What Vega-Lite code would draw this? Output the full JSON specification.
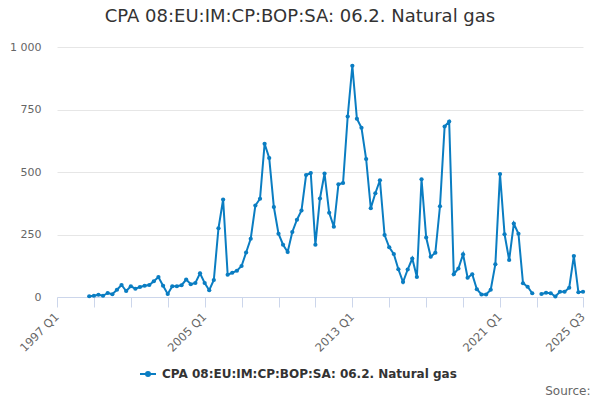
{
  "$schema": "https://vega.github.io/schema/vega-lite/v6.json",
  "description": "CPA 08:EU:IM:CP:BOP:SA: 06.2. Natural gas, quarterly",
  "autosize": "none",
  "width": 526,
  "height": 250,
  "padding": {"left": 57, "top": 47, "right": 17, "bottom": 103},
  "background": "white",
  "config": {
    "font": "DejaVu Sans",
    "view": {"stroke": "transparent"}
  },
  "title": {
    "text": "CPA 08:EU:IM:CP:BOP:SA: 06.2. Natural gas",
    "font": "DejaVu Sans",
    "fontSize": 18,
    "fontWeight": "normal",
    "color": "#333333",
    "anchor": "middle",
    "dx": -20,
    "offset": 15
  },
  "data": {
    "values": [
      {"date": "1998-10-01", "value": 3},
      {"date": "1999-01-01", "value": 5},
      {"date": "1999-04-01", "value": 9},
      {"date": "1999-07-01", "value": 5},
      {"date": "1999-10-01", "value": 16},
      {"date": "2000-01-01", "value": 11},
      {"date": "2000-04-01", "value": 29},
      {"date": "2000-07-01", "value": 48},
      {"date": "2000-10-01", "value": 24},
      {"date": "2001-01-01", "value": 43},
      {"date": "2001-04-01", "value": 33},
      {"date": "2001-07-01", "value": 40},
      {"date": "2001-10-01", "value": 45},
      {"date": "2002-01-01", "value": 48},
      {"date": "2002-04-01", "value": 63},
      {"date": "2002-07-01", "value": 80},
      {"date": "2002-10-01", "value": 45},
      {"date": "2003-01-01", "value": 12},
      {"date": "2003-04-01", "value": 43},
      {"date": "2003-07-01", "value": 43},
      {"date": "2003-10-01", "value": 47},
      {"date": "2004-01-01", "value": 70},
      {"date": "2004-04-01", "value": 51},
      {"date": "2004-07-01", "value": 56},
      {"date": "2004-10-01", "value": 95},
      {"date": "2005-01-01", "value": 56},
      {"date": "2005-04-01", "value": 27},
      {"date": "2005-07-01", "value": 68},
      {"date": "2005-10-01", "value": 275},
      {"date": "2006-01-01", "value": 390},
      {"date": "2006-04-01", "value": 89},
      {"date": "2006-07-01", "value": 97},
      {"date": "2006-10-01", "value": 105},
      {"date": "2007-01-01", "value": 124},
      {"date": "2007-04-01", "value": 178},
      {"date": "2007-07-01", "value": 233},
      {"date": "2007-10-01", "value": 366},
      {"date": "2008-01-01", "value": 393},
      {"date": "2008-04-01", "value": 613},
      {"date": "2008-07-01", "value": 556},
      {"date": "2008-10-01", "value": 360},
      {"date": "2009-01-01", "value": 253},
      {"date": "2009-04-01", "value": 209},
      {"date": "2009-07-01", "value": 180},
      {"date": "2009-10-01", "value": 260},
      {"date": "2010-01-01", "value": 309},
      {"date": "2010-04-01", "value": 346},
      {"date": "2010-07-01", "value": 488},
      {"date": "2010-10-01", "value": 496},
      {"date": "2011-01-01", "value": 209},
      {"date": "2011-04-01", "value": 394},
      {"date": "2011-07-01", "value": 494},
      {"date": "2011-10-01", "value": 337},
      {"date": "2012-01-01", "value": 281},
      {"date": "2012-04-01", "value": 451},
      {"date": "2012-07-01", "value": 456},
      {"date": "2012-10-01", "value": 722},
      {"date": "2013-01-01", "value": 925},
      {"date": "2013-04-01", "value": 713},
      {"date": "2013-07-01", "value": 677},
      {"date": "2013-10-01", "value": 552},
      {"date": "2014-01-01", "value": 355},
      {"date": "2014-04-01", "value": 415},
      {"date": "2014-07-01", "value": 467},
      {"date": "2014-10-01", "value": 248},
      {"date": "2015-01-01", "value": 199},
      {"date": "2015-04-01", "value": 172},
      {"date": "2015-07-01", "value": 111},
      {"date": "2015-10-01", "value": 60},
      {"date": "2016-01-01", "value": 110},
      {"date": "2016-04-01", "value": 154},
      {"date": "2016-07-01", "value": 80},
      {"date": "2016-10-01", "value": 471},
      {"date": "2017-01-01", "value": 238},
      {"date": "2017-04-01", "value": 161},
      {"date": "2017-07-01", "value": 177},
      {"date": "2017-10-01", "value": 363},
      {"date": "2018-01-01", "value": 682},
      {"date": "2018-04-01", "value": 702},
      {"date": "2018-07-01", "value": 91},
      {"date": "2018-10-01", "value": 114},
      {"date": "2019-01-01", "value": 171},
      {"date": "2019-04-01", "value": 77},
      {"date": "2019-07-01", "value": 91},
      {"date": "2019-10-01", "value": 31},
      {"date": "2020-01-01", "value": 10},
      {"date": "2020-04-01", "value": 10},
      {"date": "2020-07-01", "value": 29},
      {"date": "2020-10-01", "value": 131},
      {"date": "2021-01-01", "value": 492},
      {"date": "2021-04-01", "value": 251},
      {"date": "2021-07-01", "value": 148},
      {"date": "2021-10-01", "value": 294},
      {"date": "2022-01-01", "value": 253},
      {"date": "2022-04-01", "value": 55},
      {"date": "2022-07-01", "value": 41},
      {"date": "2022-10-01", "value": 15},
      {"date": "2023-01-01", "value": null},
      {"date": "2023-04-01", "value": 12},
      {"date": "2023-07-01", "value": 17},
      {"date": "2023-10-01", "value": 15},
      {"date": "2024-01-01", "value": 2},
      {"date": "2024-04-01", "value": 21},
      {"date": "2024-07-01", "value": 21},
      {"date": "2024-10-01", "value": 37},
      {"date": "2025-01-01", "value": 164},
      {"date": "2025-04-01", "value": 19},
      {"date": "2025-07-01", "value": 21}
    ]
  },
  "mark": {
    "type": "line",
    "strokeWidth": 2,
    "point": {"filled": true, "size": 18}
  },
  "encoding": {
    "x": {
      "field": "date",
      "type": "temporal",
      "scale": {
        "type": "utc",
        "nice": false,
        "domain": [
          {"year": 1997, "quarter": 1, "utc": true},
          {"year": 2025, "quarter": 3, "utc": true}
        ]
      },
      "title": "Source:",
      "axis": {
        "values": [
          {"year": 1997, "quarter": 1, "utc": true},
          {"year": 1999, "quarter": 1, "utc": true},
          {"year": 2001, "quarter": 1, "utc": true},
          {"year": 2003, "quarter": 1, "utc": true},
          {"year": 2005, "quarter": 1, "utc": true},
          {"year": 2007, "quarter": 1, "utc": true},
          {"year": 2009, "quarter": 1, "utc": true},
          {"year": 2011, "quarter": 1, "utc": true},
          {"year": 2013, "quarter": 1, "utc": true},
          {"year": 2015, "quarter": 1, "utc": true},
          {"year": 2017, "quarter": 1, "utc": true},
          {"year": 2019, "quarter": 1, "utc": true},
          {"year": 2021, "quarter": 1, "utc": true},
          {"year": 2023, "quarter": 1, "utc": true},
          {"year": 2025, "quarter": 3, "utc": true}
        ],
        "labelExpr": "(utcmonth(datum.value) == 0 && indexof([1997, 2005, 2013, 2021], utcyear(datum.value)) >= 0) || (utcyear(datum.value) == 2025 && utcmonth(datum.value) == 6) ? utcFormat(datum.value, '%Y Q%q') : ''",
        "labelAngle": -45,
        "labelAlign": "right",
        "labelBaseline": "middle",
        "labelFontSize": 11.5,
        "labelColor": "#666666",
        "labelOverlap": false,
        "labelFlush": false,
        "labelBound": false,
        "labelPadding": 8,
        "grid": false,
        "domainColor": "#ccd6eb",
        "tickColor": "#ccd6eb",
        "tickSize": 10,
        "titleFontSize": 12,
        "titleFontWeight": "normal",
        "titleColor": "#666666",
        "titleAnchor": "end",
        "titleAlign": "right",
        "titleBaseline": "middle",
        "titleX": 533,
        "titleY": 93
      }
    },
    "y": {
      "field": "value",
      "type": "quantitative",
      "scale": {"domain": [0, 1000], "nice": false},
      "title": null,
      "axis": {
        "values": [0, 250, 500, 750, 1000],
        "format": ",d",
        "labelExpr": "replace(datum.label, ',', ' ')",
        "domain": false,
        "ticks": false,
        "labelPadding": 16,
        "labelFontSize": 11,
        "labelColor": "#666666",
        "gridColor": "#e6e6e6"
      }
    },
    "color": {
      "datum": "CPA 08:EU:IM:CP:BOP:SA: 06.2. Natural gas",
      "type": "nominal",
      "scale": {"range": ["#0a7dc2"]},
      "legend": {
        "title": null,
        "orient": "none",
        "legendX": 82,
        "legendY": 318,
        "padding": 0,
        "symbolType": "M-1,0L1,0M-0.25,0A0.25,0.25,0,1,1,0.25,0A0.25,0.25,0,1,1,-0.25,0Z",
        "symbolSize": 256,
        "symbolStrokeWidth": 2,
        "symbolFillColor": "#0a7dc2",
        "symbolStrokeColor": "#0a7dc2",
        "labelFontSize": 12,
        "labelFontWeight": "bold",
        "labelColor": "#333333",
        "labelOffset": 5,
        "labelLimit": 0
      }
    }
  }
}
